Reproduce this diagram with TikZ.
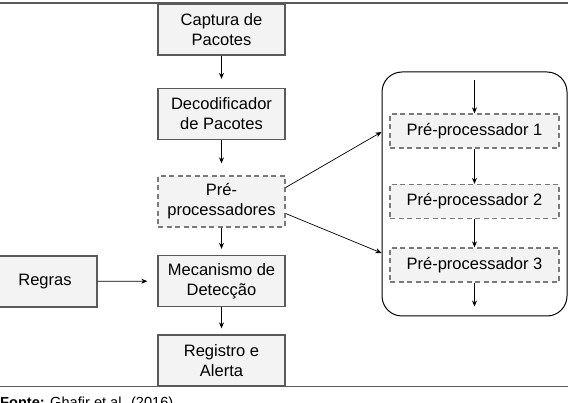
\documentclass[tikz,border=0pt]{standalone}
\usepackage{fontspec}
\setmainfont{Liberation Sans}
\usetikzlibrary{arrows.meta}
\definecolor{caixa}{HTML}{F3F3F3}
\definecolor{borda}{HTML}{5A5A5A}
\definecolor{traco}{HTML}{7A7A7A}

\begin{document}
\begin{tikzpicture}[x=1pt,y=-1pt,
  bloco/.style={draw=borda,line width=1.3pt,fill=caixa,minimum width=127pt,
    minimum height=51pt,align=center,inner sep=0pt,
    font=\fontsize{16.5}{20}\selectfont},
  tracejado/.style={bloco,draw=traco,dash pattern=on 5pt off 3.5pt},
  etapa/.style={tracejado,minimum width=169pt,minimum height=34pt},
  seta/.style={-{Stealth[length=6pt,width=5pt]},line width=0.7pt}]
  \useasboundingbox (0,0) rectangle (568,403);
  \draw[borda,line width=1.2pt] (0,3) -- (568,3);
  \draw[borda,line width=1.2pt] (0,386.5) -- (568,386.5);

  \node[bloco] (captura)  at (221.5,29.5)  {Captura de\\Pacotes};
  \node[bloco] (decod)    at (221.5,114)   {Decodificador\\de Pacotes};
  \node[tracejado] (prep) at (221.5,201.5) {Pré-\\processadores};
  \node[bloco] (mecan)    at (221.5,281)   {Mecanismo de\\Detecção};
  \node[bloco] (registro) at (221.5,360.5) {Registro e\\Alerta};
  \node[bloco,minimum width=104pt] (regras) at (45,281.5) {Regras};

  \node[draw,line width=1pt,rounded corners=20pt,minimum width=185pt,
    minimum height=244pt] (grupo) at (474.5,194) {};
  \node[etapa] (pp1) at (474.5,131)   {Pré-processador 1};
  \node[etapa] (pp2) at (474.5,201.5) {Pré-processador 2};
  \node[etapa] (pp3) at (474.5,265)   {Pré-processador 3};

  \draw[seta,shorten >=9pt] (captura) -- (decod);
  \draw[seta,shorten >=12pt] (decod) -- (prep);
  \draw[seta,shorten >=6pt] (prep) -- (mecan);
  \draw[seta,shorten >=6pt] (mecan) -- (registro);
  \draw[seta,shorten >=10pt] (regras) -- (mecan);

  \draw[seta] ([yshift=14pt]prep.east) -- ([yshift=62pt]grupo.west);
  \draw[seta] ([yshift=-12pt]prep.east) -- ([yshift=-59pt]grupo.west);

  \draw[seta] ([yshift=-9pt]grupo.north) -- (pp1);
  \draw[seta] (pp1) -- (pp2);
  \draw[seta] (pp2) -- (pp3);
  \draw[seta] (pp3) -- ([yshift=10pt]grupo.south);

  \node[anchor=base west,inner sep=0pt,font=\fontsize{14.6}{17}\selectfont]
    (fonte) at (0,407.5) {\textbf{Fonte:} Ghafir et al. (2016)};
\end{tikzpicture}
\end{document}
